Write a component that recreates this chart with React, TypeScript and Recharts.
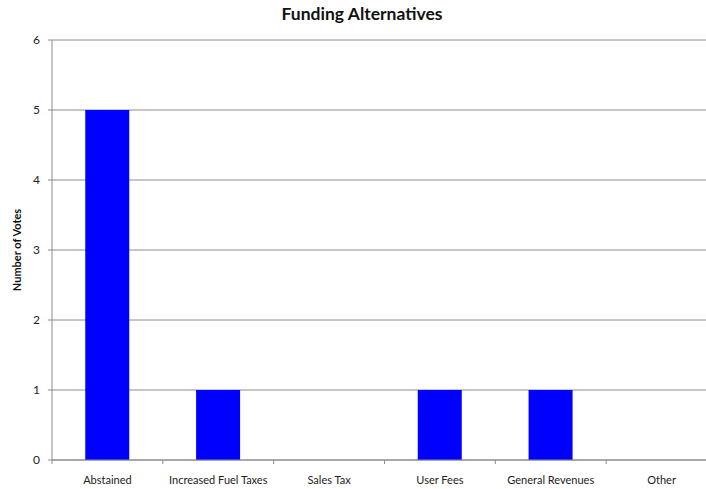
import React from "react";
import { BarChart, Bar, XAxis, YAxis, CartesianGrid } from "recharts";

const categories = ["Abstained", "Increased Fuel Taxes", "Sales Tax", "User Fees", "General Revenues", "Other"];
const votes = [5, 1, 0, 1, 1, 0];
const yTicks = [0, 1, 2, 3, 4, 5, 6];

const data = categories.map((name, i) => ({ name, votes: votes[i] }));

const FONT = "Lato, 'Open Sans', sans-serif";
const GRAY = "#8c8c8c";

const XTick = (props: any) => {
  const { x, y, payload, index } = props;
  const off = payload && payload.offset != null ? payload.offset : 55.4;
  return (
    <g>
      <line x1={x - off} y1={y} x2={x - off} y2={y + 4} stroke={GRAY} />
      {index === categories.length - 1 && (
        <line x1={x + off} y1={y} x2={x + off} y2={y + 4} stroke={GRAY} />
      )}
      <text x={x} y={y + 24} textAnchor="middle" fontSize={11} fill="#222" fontFamily={FONT}>
        {payload.value}
      </text>
    </g>
  );
};

export default function App() {
  return (
    <div style={{ position: "fixed", left: 0, top: 0, width: 706, height: 489, overflow: "hidden", background: "#fff" }}>
      <div
        style={{
          position: "absolute",
          left: 0,
          top: 3,
          width: 724,
          textAlign: "center",
          fontFamily: FONT,
          fontWeight: 700,
          fontSize: 17.5,
          color: "#111",
        }}
      >
        Funding Alternatives
      </div>
      <BarChart
        width={730}
        height={489}
        data={data}
        margin={{ top: 40, right: 13, left: 0, bottom: 0 }}
        barCategoryGap="30%"
      >
        <CartesianGrid vertical={false} stroke={GRAY} strokeWidth={1} />
        <XAxis
          dataKey="name"
          height={29}
          interval={0}
          stroke={GRAY}
          tickLine={false}
          tickSize={0}
          tickMargin={0}
          tick={<XTick />}
        />
        <YAxis
          width={52}
          domain={[0, 6]}
          ticks={yTicks}
          interval={0}
          stroke={GRAY}
          tickSize={4}
          tickMargin={8}
          tick={{ fontSize: 12, fill: "#222", fontFamily: FONT }}
          label={{
            value: "Number of Votes",
            angle: -90,
            position: "insideLeft",
            offset: 17,
            style: { textAnchor: "middle", fontSize: 11, fontWeight: 700, fill: "#111", fontFamily: FONT },
          }}
        />
        <Bar dataKey="votes" fill="#0000FF" isAnimationActive={false} />
      </BarChart>
    </div>
  );
}
